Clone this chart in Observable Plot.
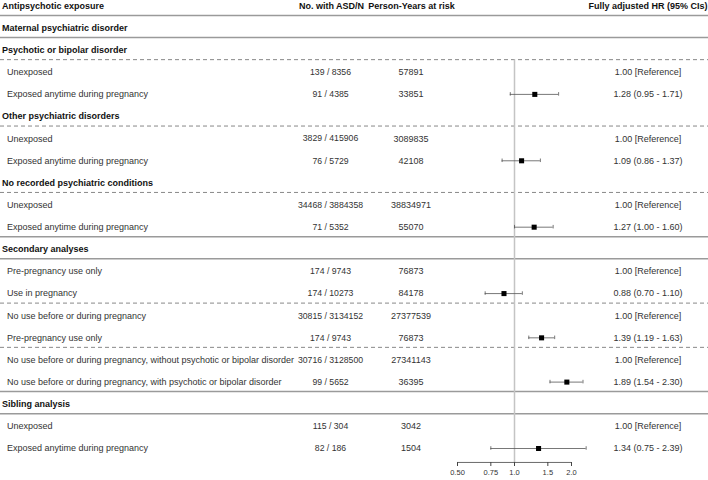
<!DOCTYPE html>
<html><head><meta charset="utf-8">
<script src="https://cdn.jsdelivr.net/npm/d3@7"></script>
<script src="https://cdn.jsdelivr.net/npm/@observablehq/plot@0.6"></script>
<style>body{margin:0;background:#fff}#chart{width:708px;height:480px}</style>
</head><body><div id="chart"></div>
<script>
// ---- data ----
const headers = ["Antipsychotic exposure", "No. with ASD/N", "Person-Years at risk", "Fully adjusted HR (95% CIs)"];
const labels = [
  "Maternal psychiatric disorder",
  "Psychotic or bipolar disorder",
  "Unexposed",
  "Exposed anytime during pregnancy",
  "Other psychiatric disorders",
  "Unexposed",
  "Exposed anytime during pregnancy",
  "No recorded psychiatric conditions",
  "Unexposed",
  "Exposed anytime during pregnancy",
  "Secondary analyses",
  "Pre-pregnancy use only",
  "Use in pregnancy",
  "No use before or during pregnancy",
  "Pre-pregnancy use only",
  "No use before or during pregnancy, without psychotic or bipolar disorder",
  "No use before or during pregnancy, with psychotic or bipolar disorder",
  "Sibling analysis",
  "Unexposed",
  "Exposed anytime during pregnancy"
];
const isHeading = [true, true, false, false, true, false, false, true, false, false, true, false, false, false, false, false, false, true, false, false];
const asdN = [null, null, "139 / 8356", "91 / 4385", null, "3829 / 415906", "76 / 5729", null, "34468 / 3884358", "71 / 5352", null, "174 / 9743", "174 / 10273", "30815 / 3134152", "174 / 9743", "30716 / 3128500", "99 / 5652", null, "115 / 304", "82 / 186"];
const personYears = [null, null, "57891", "33851", null, "3089835", "42108", null, "38834971", "55070", null, "76873", "84178", "27377539", "76873", "27341143", "36395", null, "3042", "1504"];
const hrEst = [null, null, 1.00, 1.28, null, 1.00, 1.09, null, 1.00, 1.27, null, 1.00, 0.88, 1.00, 1.39, 1.00, 1.89, null, 1.00, 1.34];
const ciLow = [null, null, null, 0.95, null, null, 0.86, null, null, 1.00, null, null, 0.70, null, 1.19, null, 1.54, null, null, 0.75];
const ciHigh = [null, null, null, 1.71, null, null, 1.37, null, null, 1.60, null, null, 1.10, null, 1.63, null, 2.30, null, null, 2.39];
const tickValues = [0.5, 0.75, 1, 1.5, 2];
const tickLabels = ["0.50", "0.75", "1.0", "1.5", "2.0"];
const solidAfter = [-1, 0, 9, 10, 16, 17];
const dashedAfter = [1, 4, 7, 12, 14];

// ---- build table ----
const rows = labels.map((label, i) => ({
  i, label, heading: isHeading[i], asd: asdN[i], py: personYears[i],
  hr: hrEst[i], lo: ciLow[i], hi: ciHigh[i],
  txt: hrEst[i] == null ? null : (ciLow[i] == null ? hrEst[i].toFixed(2) + " [Reference]" :
    `${hrEst[i].toFixed(2)} (${ciLow[i].toFixed(2)} - ${ciHigh[i].toFixed(2)})`)
}));
const est = rows.filter(d => d.lo != null);
const cells = rows.filter(d => d.asd != null);
const headerRow = -0.99;
const axisRow = 19.63;
const lineOff = 0.43;

const font = "'Liberation Sans', Arial, Helvetica, sans-serif";
const plot = Plot.plot({
  width: 708, height: 480,
  marginTop: 0, marginLeft: 0, marginRight: 0, marginBottom: 18,
  style: {fontFamily: font, fontSize: "9px", background: "#fff", color: "#222"},
  x: {type: "log", domain: [0.5, 2], range: [457, 571], label: null},
  y: {domain: [0, 19], range: [27.5, 448], axis: null},
  marks: [
    Plot.ruleY(solidAfter.map(r => r + lineOff), {stroke: "#9a9a9a", strokeWidth: 1.5}),
    Plot.ruleY(dashedAfter.map(r => r + lineOff), {stroke: "#888", strokeWidth: 1, strokeDasharray: "4,3"}),
    Plot.ruleX([1], {y1: 1 + lineOff, y2: axisRow, stroke: "#c4c4c4", strokeWidth: 1.5}),
    // header
    Plot.text([headers[0]], {text: d => d, y: () => headerRow, frameAnchor: "left", dx: 1.5, textAnchor: "start", fontWeight: "bold", fill: "#111", fontSize: 9}),
    Plot.text([headers[1]], {text: d => d, y: () => headerRow, frameAnchor: "left", dx: 331, textAnchor: "middle", fontWeight: "bold", fill: "#111", fontSize: 9}),
    Plot.text([headers[2]], {text: d => d, y: () => headerRow, frameAnchor: "left", dx: 411, textAnchor: "middle", fontWeight: "bold", fill: "#111", fontSize: 9}),
    Plot.text([headers[3]], {text: d => d, y: () => headerRow, frameAnchor: "left", dx: 647.5, textAnchor: "middle", fontWeight: "bold", fill: "#111", fontSize: 9}),
    // label column
    Plot.text(rows.filter(d => d.heading), {text: "label", y: "i", frameAnchor: "left", dx: 1.5, textAnchor: "start", fontWeight: "bold", fill: "#111", fontSize: 9}),
    Plot.text(rows.filter(d => !d.heading), {text: "label", y: "i", frameAnchor: "left", dx: 6.5, textAnchor: "start", fill: "#333", fontSize: 9}),
    Plot.text(cells, {text: "asd", y: "i", frameAnchor: "left", dx: 330, textAnchor: "middle", fill: "#333", fontSize: 8.7}),
    Plot.text(cells, {text: "py", y: "i", frameAnchor: "left", dx: 410.5, textAnchor: "middle", fill: "#333", fontSize: 9}),
    Plot.text(cells, {text: "txt", y: "i", frameAnchor: "left", dx: 647.5, textAnchor: "middle", fill: "#333", fontSize: 9}),
    // forest
    Plot.ruleY(est, {y: "i", x1: "lo", x2: "hi", stroke: "#555", strokeWidth: 0.8}),
    Plot.ruleX(est, {x: "lo", y1: d => d.i - 0.08, y2: d => d.i + 0.08, stroke: "#555", strokeWidth: 0.8}),
    Plot.ruleX(est, {x: "hi", y1: d => d.i - 0.08, y2: d => d.i + 0.08, stroke: "#555", strokeWidth: 0.8}),
    Plot.dot(est, {x: "hr", y: "i", symbol: "square", r: 2.85, fill: "#000", stroke: null}),
    // axis
    Plot.ruleY([axisRow], {x1: tickValues[0], x2: tickValues[tickValues.length - 1], stroke: "#444", strokeWidth: 0.8}),
    Plot.axisX({ticks: tickValues, tickFormat: d => tickLabels[tickValues.indexOf(d)], tickSize: 4, tickPadding: 3, fontSize: 7.5, stroke: "#444", fill: "#333", label: null})
  ]
});
document.getElementById("chart").appendChild(plot);
</script>
</body></html>
